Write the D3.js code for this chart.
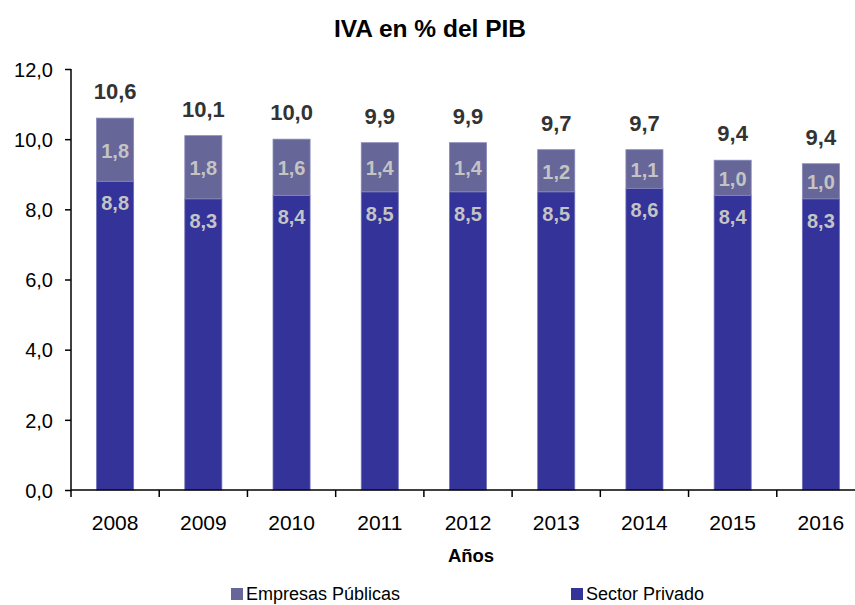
<!DOCTYPE html>
<html><head><meta charset="utf-8">
<script src="https://cdn.jsdelivr.net/npm/d3@7"></script>
<style>body{margin:0;background:#fff}svg{display:block;font-family:"Liberation Sans",Arial,sans-serif}</style>
</head><body>
<svg id="c" width="855" height="605"></svg>
<script>
const years = ["2008","2009","2010","2011","2012","2013","2014","2015","2016"];
const sectorPrivado = [8.8,8.3,8.4,8.5,8.5,8.5,8.6,8.4,8.3];
const empresasPublicas = [1.8,1.8,1.6,1.4,1.4,1.2,1.1,1.0,1.0];
const totals = [10.6,10.1,10.0,9.9,9.9,9.7,9.7,9.4,9.4];
const yTicks = [0,2,4,6,8,10,12];
const seriesNames = ["Empresas Públicas","Sector Privado"];

const colPriv = "#333399", colPub = "#666699";
const FF = "Liberation Sans, Arial, sans-serif";
const svg = d3.select("#c");
const fmt = v => d3.format(".1f")(v).replace(".", ",");

const x = d3.scaleBand().domain(years).range([71, 865]).paddingInner(0.58).paddingOuter(0.29);
const xb = d3.scaleBand().domain(years).range([71, 865]);
const y = d3.scaleLinear().domain([0,12]).range([490, 69]);

// title
svg.append("text").attr("x",430).attr("y",37).attr("text-anchor","middle")
  .attr("font-size",24.5).attr("font-weight","bold").attr("fill","#000").text("IVA en % del PIB");

// y axis
const ya = svg.append("g").attr("transform","translate(71,0)")
  .call(d3.axisLeft(y).tickValues(yTicks).tickFormat(fmt).tickSize(6).tickPadding(12));
ya.attr("font-family",FF);
ya.select(".domain").attr("stroke","#000").attr("stroke-width",1.5).attr("d","M0,69V490");
ya.selectAll("line").attr("stroke","#000").attr("stroke-width",1.5);
ya.selectAll("text").attr("font-size",20).attr("fill","#000").attr("dy","0.36em");

// bars
const g = svg.append("g");
years.forEach((yr,i)=>{
  const x0 = x(yr), w = x.bandwidth();
  const p = sectorPrivado[i], q = empresasPublicas[i];
  g.append("rect").attr("x",x0).attr("y",y(p)).attr("width",w).attr("height",y(0)-y(p))
    .attr("fill",colPriv).attr("stroke","#6f6fb8").attr("stroke-width",0.8);
  g.append("rect").attr("x",x0).attr("y",y(p+q)).attr("width",w).attr("height",y(p)-y(p+q))
    .attr("fill",colPub).attr("stroke","#8888bb").attr("stroke-width",0.8);
  const cx = x0 + w/2;
  g.append("text").attr("x",cx).attr("y",y(p)+29).attr("text-anchor","middle")
    .attr("font-size",20).attr("font-weight","bold").attr("fill","#c4c4c4").text(fmt(p));
  g.append("text").attr("x",cx).attr("y",(y(p)+y(p+q))/2+8).attr("text-anchor","middle")
    .attr("font-size",20).attr("font-weight","bold").attr("fill","#c4c4c4").text(fmt(q));
  g.append("text").attr("x",cx).attr("y",y(p+q)-19).attr("text-anchor","middle")
    .attr("font-size",22).attr("font-weight","bold").attr("fill","#333").text(fmt(totals[i]));
});

// x axis
const xa = svg.append("g").attr("transform","translate(0,490)")
  .call(d3.axisBottom(xb).tickSize(0).tickPadding(25));
xa.attr("font-family",FF);
xa.select(".domain").attr("stroke","#000").attr("stroke-width",1.5).attr("d","M71,0H855");
xa.selectAll("text").attr("font-size",21).attr("fill","#000");
const bounds = years.map(yr => xb(yr)).concat([xb(years[years.length-1]) + xb.bandwidth()]);
svg.append("g").selectAll("line").data(bounds).join("line")
  .attr("x1",d=>d).attr("x2",d=>d).attr("y1",490).attr("y2",497)
  .attr("stroke","#000").attr("stroke-width",1.5);

svg.append("text").attr("x",471).attr("y",562).attr("text-anchor","middle")
  .attr("font-size",18.5).attr("font-weight","bold").attr("fill","#000").text("Años");

// legend
const leg = [{n:seriesNames[0],c:colPub,x:231},{n:seriesNames[1],c:colPriv,x:571}];
leg.forEach(l=>{
  svg.append("rect").attr("x",l.x).attr("y",588).attr("width",12).attr("height",12).attr("fill",l.c);
  svg.append("text").attr("x",l.x+15).attr("y",600).attr("font-size",18).attr("fill","#000").text(l.n);
});
</script>
</body></html>
